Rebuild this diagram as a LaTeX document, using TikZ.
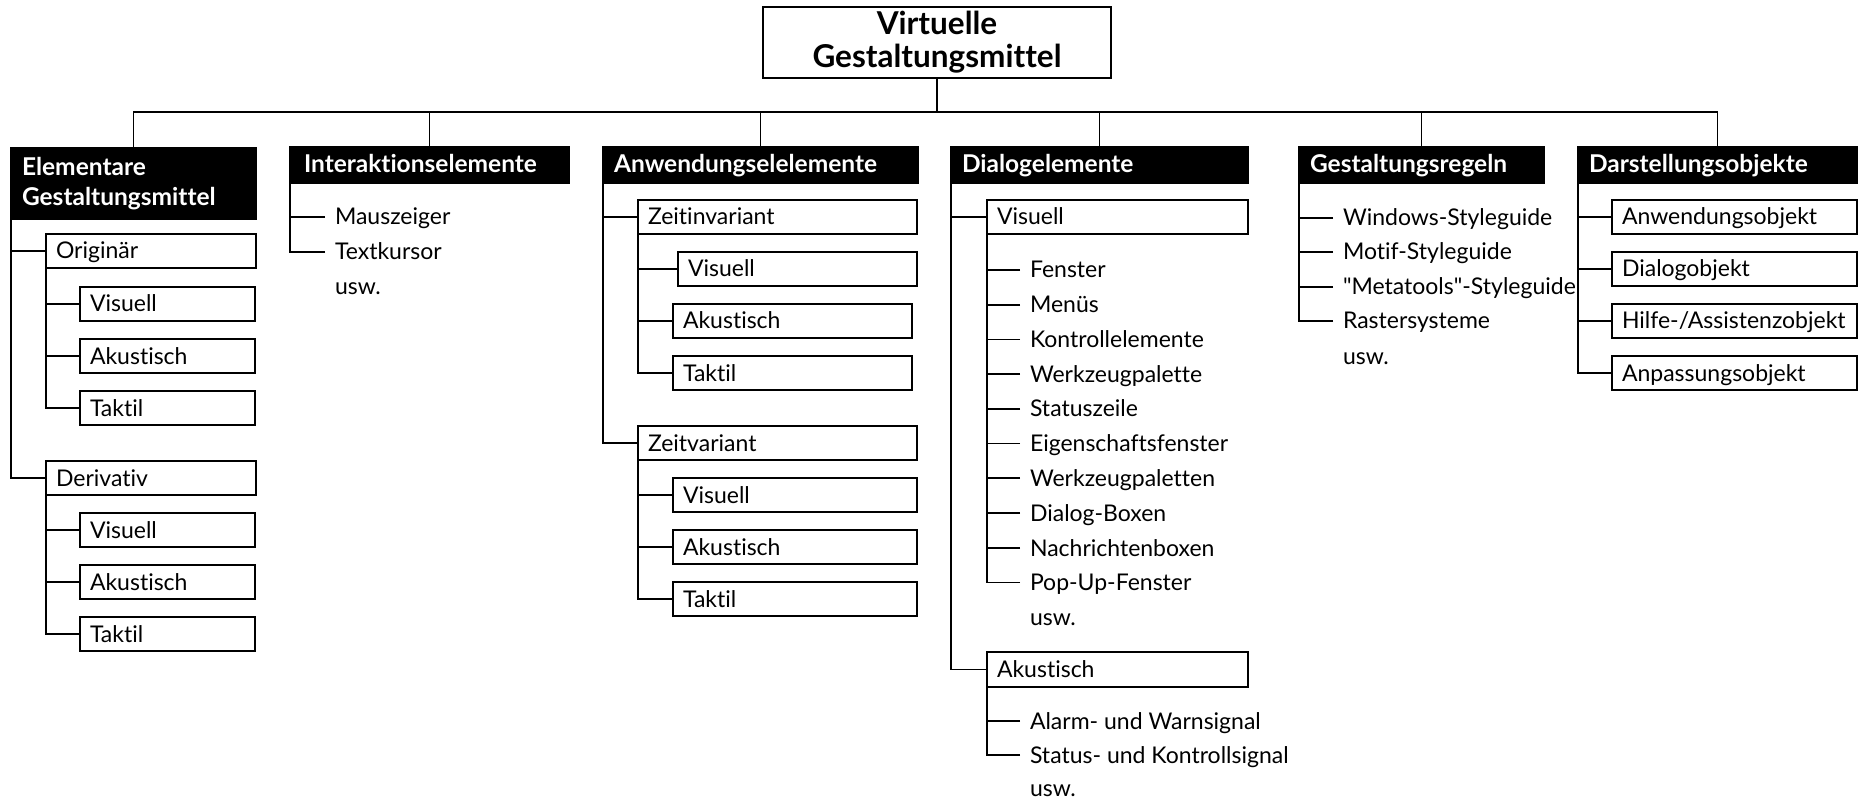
\documentclass[tikz,border=0pt]{standalone}
\usepackage{fontspec}
\setmainfont{Lato}[Ligatures={NoCommon,NoRare}]
\begin{document}
\begin{tikzpicture}[x=1pt,y=-1pt,line width=1.8pt,
  every node/.style={outer sep=0pt},
  rootbox/.style={draw, anchor=north west, align=center, inner xsep=6pt, inner ysep=0pt,
    font=\bfseries\fontsize{31.5}{33}\selectfont, minimum height=71pt},
  topbox/.style={draw, fill=black, text=white, anchor=north west, align=left, inner xsep=11pt,
    inner ysep=0pt, font=\bfseries\fontsize{24.5}{30}\selectfont, text height=20pt, text depth=4pt,
    minimum height=36pt},
  subbox/.style={draw, anchor=north west, align=left, inner xsep=10pt, inner ysep=0pt,
    font=\fontsize{23}{27}\selectfont, text height=19pt, text depth=3pt, minimum height=34pt},
  leaf/.style={anchor=west, inner xsep=10pt, inner ysep=0pt,
    font=\fontsize{23}{27}\selectfont, text height=19pt, text depth=3pt},
]
\useasboundingbox (0,0) rectangle (1858,802);

% root
\node[rootbox, text width=336pt] (root) at (763,7) {Virtuelle\\Gestaltungsmittel};
\coordinate (bus) at (937,112);

% level 1
\node[topbox, text width=223pt, minimum height=71pt, text height=, text depth=] (elem) at (11,148) {Elementare\\Gestaltungsmittel};
\node[topbox, inner xsep=14pt, text width=251pt] (inter) at (290,147) {Interaktionselemente};
\node[topbox, text width=293pt] (anw) at (603,147) {Anwendungselelemente};
\node[topbox, text width=275pt] (dia) at (951,147) {Dialogelemente};
\node[topbox, text width=223pt] (gest) at (1299,147) {Gestaltungsregeln};
\node[topbox, text width=257pt] (dar) at (1578,147) {Darstellungsobjekte};

\draw (root.south) -- (bus);
\foreach \n in {elem,inter,anw,dia,gest,dar} \draw (\n.north) |- (bus);

% Elementare Gestaltungsmittel
\node[subbox, text width=190pt] (orig) at (46,234) {Originär};
\node[subbox, text width=155pt] (ov) at (80,287) {Visuell};
\node[subbox, text width=155pt] (oa) at (80,339) {Akustisch};
\node[subbox, text width=155pt] (ot) at (80,391) {Taktil};
\node[subbox, text width=190pt] (deriv) at (46,461) {Derivativ};
\node[subbox, text width=155pt] (dv) at (80,513) {Visuell};
\node[subbox, text width=155pt] (da) at (80,565) {Akustisch};
\node[subbox, text width=155pt] (dt) at (80,617) {Taktil};
\foreach \n in {orig,deriv} \draw (\n.west) -| (elem.south west);
\foreach \n in {ov,oa,ot} \draw (\n.west) -| (orig.south west);
\foreach \n in {dv,da,dt} \draw (\n.west) -| (deriv.south west);

% Interaktionselemente
\node[leaf] (maus) at (325,217) {Mauszeiger};
\node[leaf] (kursor) at (325,252) {Textkursor};
\node[leaf] (iusw) at (325,287) {usw.};
\foreach \n in {maus,kursor} \draw (\n.west) -| (inter.south west);

% Anwendungselelemente
\node[subbox, text width=259pt] (zinv) at (638,200) {Zeitinvariant};
\node[subbox, text width=219pt] (ziv) at (678,252) {Visuell};
\node[subbox, text width=219pt] (zia) at (673,304) {Akustisch};
\node[subbox, text width=219pt] (zit) at (673,356) {Taktil};
\node[subbox, text width=259pt] (zvar) at (638,426) {Zeitvariant};
\node[subbox, text width=224pt] (zvv) at (673,478) {Visuell};
\node[subbox, text width=224pt] (zva) at (673,530) {Akustisch};
\node[subbox, text width=224pt] (zvt) at (673,582) {Taktil};
\foreach \n in {zinv,zvar} \draw (\n.west) -| (anw.south west);
\foreach \n in {ziv,zia,zit} \draw (\n.west) -| (zinv.south west);
\foreach \n in {zvv,zva,zvt} \draw (\n.west) -| (zvar.south west);

% Dialogelemente
\node[subbox, text width=241pt] (dlvis) at (987,200) {Visuell};
\node[leaf] (l1) at (1020,270) {Fenster};
\node[leaf] (l2) at (1020,304.7) {Menüs};
\node[leaf] (l3) at (1020,339.4) {Kontrollelemente};
\node[leaf] (l4) at (1020,374) {Werkzeugpalette};
\node[leaf] (l5) at (1020,408.8) {Statuszeile};
\node[leaf] (l6) at (1020,443.5) {Eigenschaftsfenster};
\node[leaf] (l7) at (1020,478) {Werkzeugpaletten};
\node[leaf] (l8) at (1020,513) {Dialog-Boxen};
\node[leaf] (l9) at (1020,548) {Nachrichtenboxen};
\node[leaf] (l10) at (1020,582.5) {Pop-Up-Fenster};
\node[leaf] (dusw) at (1020,617.5) {usw.};
\node[subbox, text width=241pt, minimum height=35pt] (dlak) at (987,652) {Akustisch};
\node[leaf] (alarm) at (1020,721) {Alarm- und Warnsignal};
\node[leaf] (status) at (1020,755) {Status- und Kontrollsignal};
\node[leaf] (ausw) at (1020,788) {usw.};
\foreach \n in {dlvis,dlak} \draw (\n.west) -| (dia.south west);
\foreach \n in {l1,l2,l3,l4,l5,l6,l7,l8,l9,l10} \draw (\n.west) -| (dlvis.south west);
\foreach \n in {alarm,status} \draw (\n.west) -| (dlak.south west);

% Gestaltungsregeln
\node[leaf] (g1) at (1333,218) {Windows-Styleguide};
\node[leaf] (g2) at (1333,252) {Motif-Styleguide};
\node[leaf] (g3) at (1333,287) {\textquotedbl Metatools\textquotedbl-Styleguide};
\node[leaf] (g4) at (1333,321) {Rastersysteme};
\node[leaf] (gusw) at (1333,356) {usw.};
\foreach \n in {g1,g2,g3,g4} \draw (\n.west) -| (gest.south west);

% Darstellungsobjekte
\node[subbox, text width=225pt] (ao) at (1612,200) {Anwendungsobjekt};
\node[subbox, text width=225pt] (do) at (1612,252) {Dialogobjekt};
\node[subbox, text width=225pt] (ho) at (1612,304) {Hilfe-/Assistenzobjekt};
\node[subbox, text width=225pt] (po) at (1612,356) {Anpassungsobjekt};
\foreach \n in {ao,do,ho,po} \draw (\n.west) -| (dar.south west);
\end{tikzpicture}
\end{document}
